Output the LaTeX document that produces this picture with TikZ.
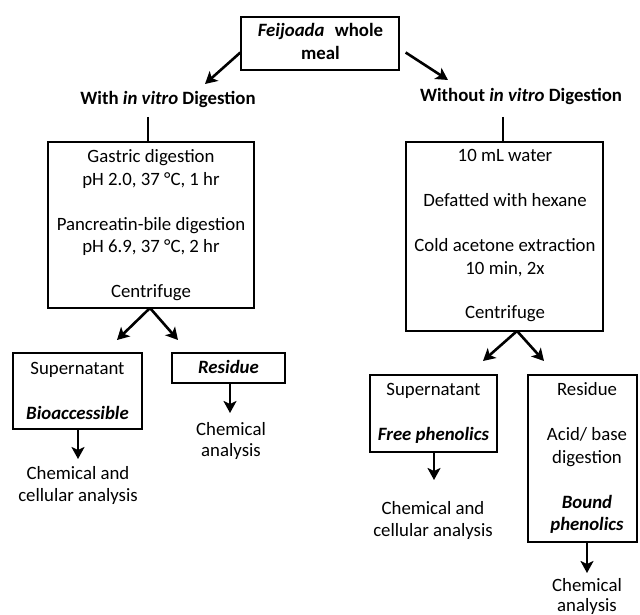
\documentclass[tikz,border=0pt]{standalone}
\usepackage{fontspec}
\setmainfont{Carlito}
\usetikzlibrary{arrows.meta}
\begin{document}
\begin{tikzpicture}[x=1pt,y=-1pt,
  box/.style={draw,line width=1.3pt,inner sep=0pt},
  txt/.style={inner sep=0pt,text height=13pt,text depth=4pt,font=\fontsize{18.8}{22}\selectfont},
  hd/.style={txt,font=\fontsize{18.8}{22}\selectfont\bfseries},
  arr/.style={line width=2.6pt,-{Stealth[length=12pt,width=13pt,inset=3pt]}},
  ln/.style={line width=2.6pt}]
\useasboundingbox (0,0) rectangle (640,615);
% top
\node[box,minimum width=158pt,minimum height=53pt] (top) at (320,43.5) {};
\node[hd] (t1) at (320.5,32) {\textit{Feijoada}\hspace{0.55em}whole};
\node[hd] (t2) at (320.5,55) {meal};
\coordinate (la) at (205,84);
\coordinate (ra) at (448,80);
\draw[arr] ([yshift=-9pt]top.west) -- (la);
\draw[arr] ([xshift=6pt,yshift=-9pt]top.east) -- (ra);
\node[hd] (lh) at (168,100) {With \textit{in vitro} Digestion};
\node[hd] (rh) at (521,97) {Without \textit{in vitro} Digestion};
% left box
\node[box,minimum width=206pt,minimum height=166pt] (lb) at (151,225) {};
\coordinate (lv) at (148,117);
\draw[ln] (lv) -- (lv |- lb.north);
\node[txt] (l1) at (151,158) {Gastric digestion};
\node[txt] (l2) at (151,181) {pH 2.0, 37 °C, 1 hr};
\node[txt] (l3) at (151,226) {Pancreatin-bile digestion};
\node[txt] (l4) at (151,248) {pH 6.9, 37 °C, 2 hr};
\node[txt] (l5) at (151,293) {Centrifuge};
\coordinate (lc) at (150,308);
\coordinate (lsa) at (117,340);
\coordinate (lra) at (178,340);
\draw[arr] (lc) -- (lsa);
\draw[arr] (lc) -- (lra);
% left supernatant
\node[box,minimum width=129pt,minimum height=76pt] (ls) at (77.5,391) {};
\node[txt] (ls1) at (77.5,370) {Supernatant};
\node[hd] (ls2) at (77.5,415) {\textit{Bioaccessible}};
\coordinate (lsd) at (78,459);
\draw[arr] (ls.south -| lsd) -- (lsd);
\node[txt] (ls3) at (78,475) {Chemical and};
\node[txt] (ls4) at (78,497) {cellular analysis};
% left residue
\node[box,minimum width=113pt,minimum height=30pt] (lr) at (228.5,368) {};
\node[hd] (lr1) at (228.5,369) {\textit{Residue}};
\coordinate (lrd) at (230,413);
\draw[arr] (lr.south -| lrd) -- (lrd);
\node[txt] (lr2) at (231,431) {Chemical};
\node[txt] (lr3) at (231,452) {analysis};
% right box
\node[box,minimum width=197pt,minimum height=189pt] (rb) at (504.5,236.5) {};
\coordinate (rv) at (503,117);
\draw[ln] (rv) -- (rv |- rb.north);
\node[txt] (r1) at (505,157) {10 mL water};
\node[txt] (r2) at (505,202) {Defatted with hexane};
\node[txt] (r3) at (505,247) {Cold acetone extraction};
\node[txt] (r4) at (505,270) {10 min, 2x};
\node[txt] (r5) at (505,314) {Centrifuge};
\coordinate (rc) at (517,331);
\coordinate (rsa) at (483,361);
\coordinate (rra) at (544,361);
\draw[arr] (rc) -- (rsa);
\draw[arr] (rc) -- (rra);
% right supernatant
\node[box,minimum width=127pt,minimum height=77pt] (rs) at (433.5,413.5) {};
\node[txt] (rs1) at (433.5,391) {Supernatant};
\node[hd] (rs2) at (433.5,436) {\textit{Free phenolics}};
\coordinate (rsd) at (434,480);
\draw[arr] (rs.south -| rsd) -- (rsd);
\node[txt] (rs3) at (433,510) {Chemical and};
\node[txt] (rs4) at (433,532) {cellular analysis};
% right residue
\node[box,minimum width=109pt,minimum height=167pt] (rr) at (582.5,458.5) {};
\node[txt] (rr1) at (587,391) {Residue};
\node[txt] (rr2) at (587,436) {Acid/ base};
\node[txt] (rr3) at (587,459) {digestion};
\node[hd] (rr4) at (587,504) {\textit{Bound}};
\node[hd] (rr5) at (587,526) {\textit{phenolics}};
\coordinate (rrd) at (587,573);
\draw[arr] (rr.south -| rrd) -- (rrd);
\node[txt] (rr6) at (587,587) {Chemical};
\node[txt] (rr7) at (587,607) {analysis};
\end{tikzpicture}
\end{document}
